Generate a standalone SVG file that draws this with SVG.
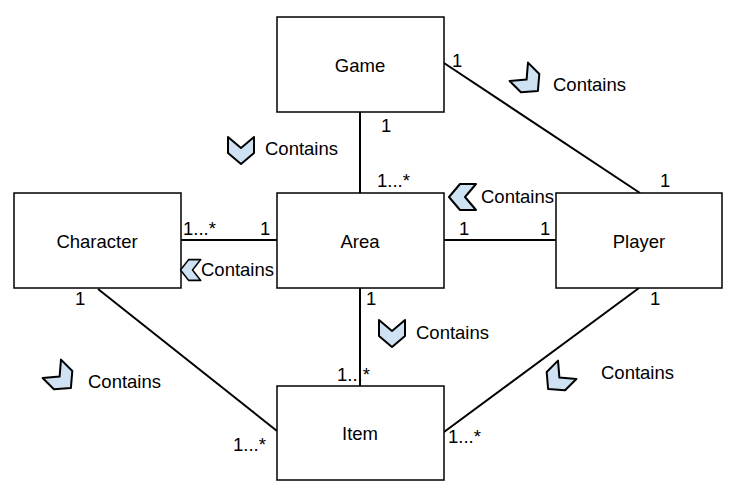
<svg xmlns="http://www.w3.org/2000/svg" width="729" height="498" viewBox="0 0 729 498">
<style>
.box{fill:#fff;stroke:#000;stroke-width:1.5}
.ln{stroke:#000;stroke-width:2;fill:none}
text{font-family:"Liberation Sans",Arial,sans-serif;font-size:18.5px;fill:#000}
.lbl{text-anchor:middle}
.chev{fill:#cfe2f3;stroke:#000;stroke-width:2;stroke-linejoin:round}
</style>
<defs>
<path id="chev" class="chev" d="M-13,-13 L0,-2 L13,-13 L13,3 L0,14 L-13,3 Z"/>
</defs>
<rect width="729" height="498" fill="#fff"/>
<g id="connectors">
<line class="ln" x1="360" y1="112" x2="360" y2="193"/>
<line class="ln" x1="181" y1="240" x2="277" y2="240"/>
<line class="ln" x1="444" y1="240" x2="556" y2="240"/>
<line class="ln" x1="360" y1="288" x2="360" y2="386"/>
<line class="ln" x1="444" y1="63" x2="640" y2="193"/>
<line class="ln" x1="98" y1="289" x2="277" y2="431"/>
<line class="ln" x1="639" y1="288" x2="444" y2="432"/>
</g>
<g id="game"><rect class="box" x="277" y="17" width="167" height="95"/><text class="lbl" x="360" y="72">Game</text></g>
<g id="character"><rect class="box" x="14" y="193" width="167" height="95"/><text class="lbl" x="97" y="248">Character</text></g>
<g id="area"><rect class="box" x="277" y="193" width="167" height="95"/><text class="lbl" x="360" y="248">Area</text></g>
<g id="player"><rect class="box" x="556" y="193" width="166" height="95"/><text class="lbl" x="639" y="248">Player</text></g>
<g id="item"><rect class="box" x="277" y="386" width="167" height="94"/><text class="lbl" x="360" y="440">Item</text></g>
<g id="chevrons">
<use href="#chev" transform="translate(528,81) rotate(-45)"/>
<use href="#chev" transform="translate(241,150)"/>
<use href="#chev" transform="translate(463,197) rotate(90)"/>
<use href="#chev" transform="translate(191,270) rotate(90) scale(0.8,0.75)"/>
<use href="#chev" transform="translate(392,333)"/>
<use href="#chev" transform="translate(61,378) rotate(-45)"/>
<use href="#chev" transform="translate(558,379) rotate(45)"/>
</g>
<g id="labels">
<text x="553" y="91">Contains</text>
<text x="265" y="155">Contains</text>
<text x="481" y="203">Contains</text>
<text x="201" y="276">Contains</text>
<text x="416" y="339">Contains</text>
<text x="88" y="388">Contains</text>
<text x="601" y="379">Contains</text>
<text x="452" y="67">1</text>
<text x="660" y="187">1</text>
<text x="381" y="132">1</text>
<text x="377" y="187">1...*</text>
<text x="183" y="235">1...*</text>
<text x="260" y="235">1</text>
<text x="459" y="235">1</text>
<text x="540" y="235">1</text>
<text x="75" y="305">1</text>
<text x="366" y="305">1</text>
<text x="650" y="305">1</text>
<text x="337" y="381">1...*</text>
<text x="233" y="451">1...*</text>
<text x="448" y="443">1...*</text>
</g>
</svg>
